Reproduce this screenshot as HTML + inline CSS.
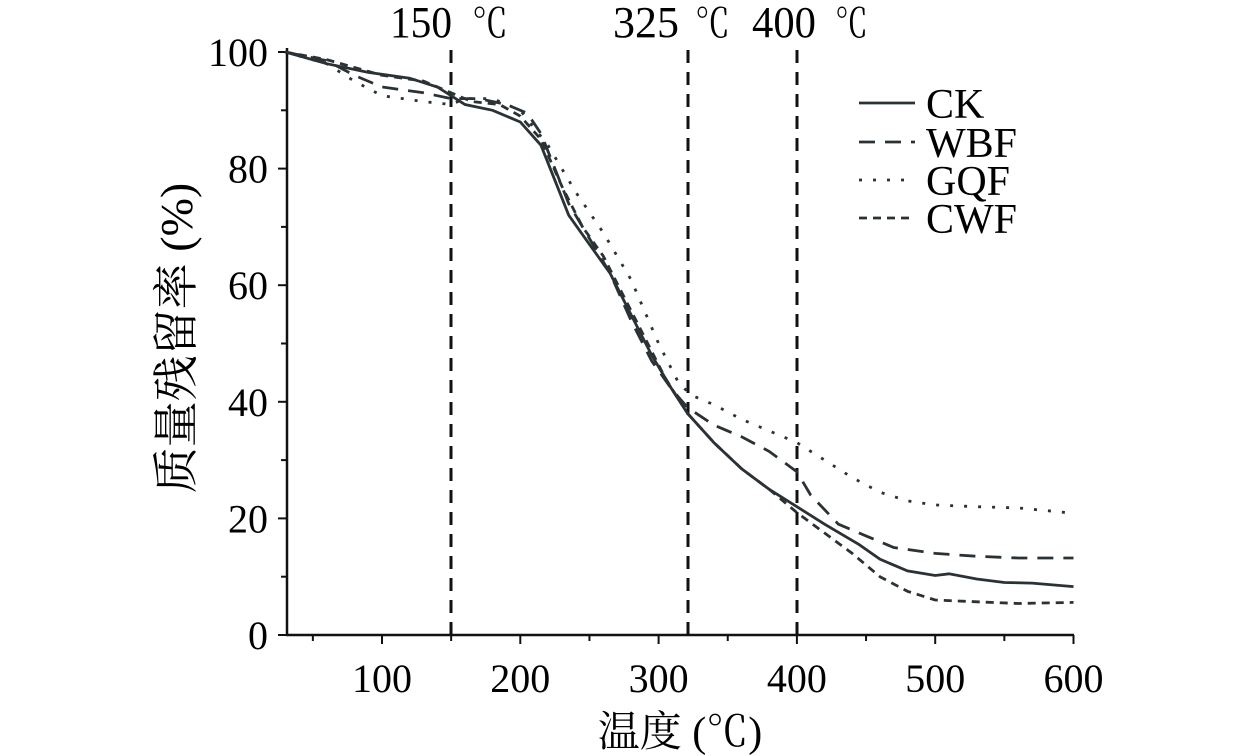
<!DOCTYPE html>
<html><head><meta charset="utf-8"><style>html,body{margin:0;padding:0;background:#fff;width:1260px;height:756px;overflow:hidden}</style></head>
<body>
<svg id="s" width="1260" height="756" xmlns="http://www.w3.org/2000/svg" font-family="Liberation Serif, 'Noto Serif CJK SC', serif">
<g id="g"></g>
</svg>
<script>
const X=t=>382+(t-100)*1.383, Y=v=>635-v*5.83;
const g=document.getElementById('g');
let h='';
h+=`<line x1="287" y1="48" x2="287" y2="636" stroke="#111" stroke-width="2.5"/>`;
h+=`<line x1="286" y1="635" x2="1074" y2="635" stroke="#111" stroke-width="2.5"/>`;
for(let v=0;v<=100;v+=10){const y=Y(v);h+=`<line x1="${v%20?281:278}" y1="${y}" x2="287" y2="${y}" stroke="#111" stroke-width="2"/>`;
 if(v%20==0)h+=`<text x="268" y="${y+14}" font-size="40" text-anchor="end">${v}</text>`;}
for(let t=50;t<=600;t+=50){const x=X(t);h+=`<line x1="${x}" y1="635" x2="${x}" y2="${t%100?641:644}" stroke="#111" stroke-width="2"/>`;
 if(t%100==0)h+=`<text x="${x}" y="692" font-size="40" text-anchor="middle">${t}</text>`;}
h+=`<text x="680" y="746" font-size="42" text-anchor="middle">温度 (℃)</text>`;
h+=`<text transform="translate(192,338) rotate(-90)" font-size="46" text-anchor="middle">质量残留率 (%)</text>`;
[[451,'150',390,62,472,36],[688,'325',613,66,695,35],[797,'400',752,64,835,33]].forEach(a=>{
 h+=`<line x1="${a[0]}" y1="50" x2="${a[0]}" y2="634" stroke="#111" stroke-width="3" stroke-dasharray="13,9"/>`;
 h+=`<text x="${a[2]}" y="37" font-size="44" textLength="${a[3]}" lengthAdjust="spacingAndGlyphs">${a[1]}</text>`;
 h+=`<text x="${a[4]}" y="37" font-size="40" textLength="${a[5]}" lengthAdjust="spacingAndGlyphs">℃</text>`;});
const P=d=>'M'+d.map(p=>X(p[0]).toFixed(1)+','+Y(p[1]).toFixed(1)).join('L');
const CK=[[30,100],[60,98],[90,96.5],[120,95.5],[140,94],[150,92.5],[160,91],[180,90],[200,88],[215,84],[225,78],[235,72],[250,67],[265,62],[280,55],[295,48],[310,42],[321,38],[340,33],[360,28.5],[380,25],[400,22],[420,19],[445,15.5],[460,13],[480,11],[500,10.2],[510,10.5],[530,9.6],[550,9],[570,8.9],[600,8.3]];
const WBF=[[30,100],[60,98.5],[80,96],[100,94],[130,93],[150,92],[170,92],[190,91],[205,89.5],[215,86],[225,80],[235,74],[250,68],[265,62],[280,54],[295,47],[310,42],[321,39],[340,36],[360,34],[380,31.5],[400,28],[410,24],[430,19],[450,17],[470,15],[500,14],[530,13.5],[560,13.2],[600,13.2]];
const GQF=[[30,100],[60,98],[80,95],[100,92.5],[130,91.5],[150,91],[160,92],[180,92],[200,90],[220,84],[240,76],[260,69],[280,61],[300,50],[315,43],[325,41],[340,39.5],[360,37],[380,35],[400,33],[420,30],[440,27],[460,24.5],[480,23],[500,22.3],[530,22],[560,21.8],[595,21]];
const CWF=[[30,100],[60,98.7],[100,96],[130,95],[150,93],[165,91.5],[185,91],[200,89],[215,85],[230,77],[245,70],[260,65],[275,58],[290,51],[305,44],[321,38],[340,33],[360,28.5],[380,25],[400,21],[420,17.5],[440,14],[460,10],[480,7.5],[500,6],[530,5.7],[560,5.4],[600,5.6]];
const st=[[CK,''],[WBF,'16,10'],[GQF,'3,11'],[CWF,'8,6']];
st.forEach(s=>{h+=`<path d="${P(s[0])}" fill="none" stroke="#2b3236" stroke-width="2.8" stroke-dasharray="${s[1]}"/>`;});
const names=['CK','WBF','GQF','CWF'],ly=[103,142,180,218];
st.forEach((s,i)=>{h+=`<line x1="859" y1="${ly[i]}" x2="915" y2="${ly[i]}" stroke="#2b3236" stroke-width="2.8" stroke-dasharray="${s[1]}"/>`;
 h+=`<text x="926" y="${ly[i]+15}" font-size="42">${names[i]}</text>`;});
g.innerHTML=h;
</script>
</body></html>
